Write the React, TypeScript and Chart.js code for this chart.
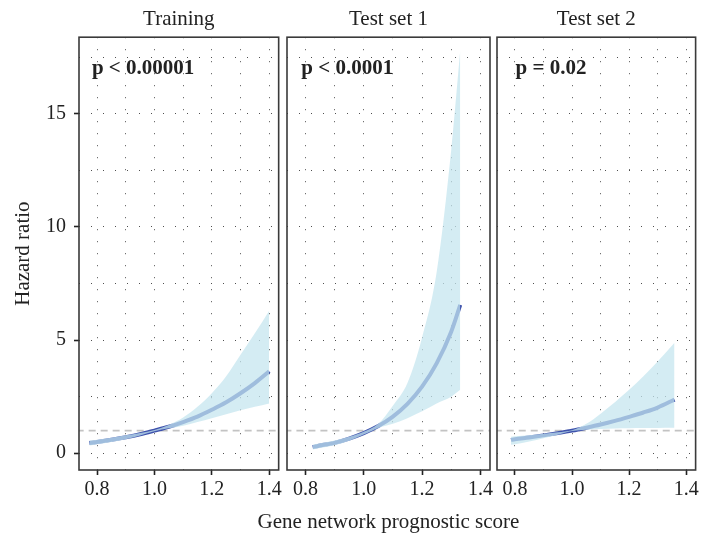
import React, { useEffect, useRef } from "react";
import { Chart, registerables } from "chart.js";

Chart.register(...registerables);

// ---------- data ----------
const panelTitles = ["Training", "Test set 1", "Test set 2"];
const pLabels = ["p < 0.00001", "p < 0.0001", "p = 0.02"];
const pLabelX = [0.782, 0.786, 0.802];
const pLabelY = 17.0;
const referenceHR = 1;

const xTickLabels = ["0.8", "1.0", "1.2", "1.4"];
const yTickLabels = ["0", "5", "10", "15"];
const xAxisTitle = "Gene network prognostic score";
const yAxisTitle = "Hazard ratio";

const trainX = [0.773, 0.8, 0.85, 0.9, 0.95, 1.0, 1.05, 1.1, 1.15, 1.2, 1.25, 1.3, 1.35, 1.4];
const trainHR = [0.45, 0.5, 0.6, 0.71, 0.84, 1.0, 1.17, 1.38, 1.62, 1.92, 2.25, 2.65, 3.1, 3.62];
const trainLower = [0.34, 0.4, 0.5, 0.62, 0.78, 0.97, 1.1, 1.22, 1.38, 1.55, 1.72, 1.9, 2.05, 2.2];
const trainUpper = [0.56, 0.6, 0.69, 0.79, 0.9, 1.03, 1.25, 1.58, 2.05, 2.65, 3.4, 4.35, 5.3, 6.3];

const test1X = [0.825, 0.85, 0.9, 0.95, 1.0, 1.05, 1.1, 1.15, 1.2, 1.25, 1.3, 1.331];
const test1HR = [0.27, 0.34, 0.46, 0.65, 0.89, 1.2, 1.62, 2.18, 2.94, 3.97, 5.37, 6.55];
const test1Lower = [0.17, 0.23, 0.35, 0.55, 0.83, 1.12, 1.3, 1.55, 1.85, 2.2, 2.5, 2.8];
const test1Upper = [0.38, 0.44, 0.56, 0.73, 0.95, 1.3, 2.1, 3.1, 5.1, 8.0, 13.4, 17.8];

const test2X = [0.786, 0.8, 0.85, 0.9, 0.95, 1.0, 1.05, 1.1, 1.15, 1.2, 1.25, 1.3, 1.359];
const test2HR = [0.59, 0.62, 0.7, 0.79, 0.89, 1.0, 1.13, 1.27, 1.43, 1.61, 1.8, 2.02, 2.37];
const test2Lower = [0.37, 0.4, 0.52, 0.66, 0.82, 0.98, 1.04, 1.07, 1.09, 1.1, 1.11, 1.12, 1.13];
const test2Upper = [0.73, 0.75, 0.8, 0.86, 0.93, 1.02, 1.3, 1.75, 2.25, 2.8, 3.4, 4.05, 4.88];

const panelX = [trainX, test1X, test2X];
const panelHR = [trainHR, test1HR, test2HR];
const panelLower = [trainLower, test1Lower, test2Lower];
const panelUpper = [trainUpper, test1Upper, test2Upper];

// ---------- styles ----------
const FONT = '"Liberation Serif", "DejaVu Serif", serif';
const TEXT = "#222222";
const X_MIN = 0.737;
const X_MAX = 1.433;
const Y_MIN = -0.74;
const Y_MAX = 18.38;

const layouts = [
  { left: 0, width: 285, padLeft: 0, padRight: 3, yWidth: 79, showY: true, showXTitle: false },
  { left: 234, width: 309, padLeft: 53, padRight: 53, yWidth: 0, showY: false, showXTitle: true },
  { left: 494, width: 208, padLeft: 3, padRight: 2, yWidth: 0, showY: false, showXTitle: false },
];

const xLabelOf = (v: number) => {
  const s = Number(v).toFixed(1);
  return xTickLabels.includes(s) ? s : "";
};
const yLabelOf = (v: number) => {
  const s = String(Math.round(v * 100) / 100);
  return yTickLabels.includes(s) ? s : "";
};

function Panel({ index }: { index: number }) {
  const ref = useRef<HTMLCanvasElement | null>(null);
  const lay = layouts[index];

  useEffect(() => {
    if (!ref.current) return;
    const xs = panelX[index];
    const toPts = (ys: number[]) => xs.map((x, i) => ({ x, y: ys[i] }));

    const framePlugin = {
      id: "frameAndLabel" + index,
      afterDraw(chart: any) {
        const { ctx, chartArea, scales } = chart;
        ctx.save();
        ctx.strokeStyle = "#3a3a3a";
        ctx.lineWidth = 1.6;
        ctx.strokeRect(chartArea.left, chartArea.top, chartArea.right - chartArea.left, chartArea.bottom - chartArea.top);
        ctx.fillStyle = TEXT;
        ctx.font = `bold 21px ${FONT}`;
        ctx.textAlign = "left";
        ctx.textBaseline = "middle";
        ctx.fillText(pLabels[index], scales.x.getPixelForValue(pLabelX[index]), scales.y.getPixelForValue(pLabelY));
        if (lay.showXTitle) {
          ctx.font = `21px ${FONT}`;
          ctx.textAlign = "center";
          ctx.fillText(xAxisTitle, (chartArea.left + chartArea.right) / 2, 522);
        }
        ctx.restore();
      },
    };

    const chart = new Chart(ref.current, {
      type: "line",
      data: {
        datasets: [
          {
            label: "upper",
            data: toPts(panelUpper[index]),
            borderWidth: 0,
            borderColor: "rgba(0,0,0,0)",
            backgroundColor: "rgba(196,229,238,0.73)",
            pointRadius: 0,
            fill: "+1",
            cubicInterpolationMode: "monotone",
            order: 0,
          },
          {
            label: "lower",
            data: toPts(panelLower[index]),
            borderWidth: 0,
            borderColor: "rgba(0,0,0,0)",
            pointRadius: 0,
            fill: false,
            cubicInterpolationMode: "monotone",
            order: 0,
          },
          {
            label: "HR",
            data: toPts(panelHR[index]),
            borderWidth: 4,
            borderColor: "rgb(62,82,172)",
            pointRadius: 0,
            fill: false,
            cubicInterpolationMode: "monotone",
            order: 1,
          },
          {
            label: "ref",
            data: [
              { x: X_MIN - 0.05, y: referenceHR },
              { x: X_MAX + 0.05, y: referenceHR },
            ],
            borderWidth: 1.6,
            borderColor: "rgb(195,195,195)",
            borderDash: [7, 5],
            pointRadius: 0,
            fill: false,
            order: 3,
          },
        ],
      },
      options: {
        animation: false,
        responsive: false,
        maintainAspectRatio: false,
        devicePixelRatio: 1,
        layout: { padding: { left: lay.padLeft, right: lay.padRight, top: 0, bottom: 0 } },
        plugins: {
          legend: { display: false },
          tooltip: { enabled: false },
          title: {
            display: true,
            text: panelTitles[index],
            fullSize: false,
            color: TEXT,
            font: { family: FONT, size: 21, weight: "normal" },
            padding: { top: 7, bottom: 5 },
          },
        },
        scales: {
          x: {
            type: "linear",
            min: X_MIN,
            max: X_MAX,
            afterFit: (s: any) => {
              s.height = 69;
            },
            border: { display: false, dash: [1, 11] },
            grid: {
              color: "rgba(60,60,60,0.9)",
              lineWidth: 1,
              drawTicks: true,
              tickLength: 5,
              tickWidth: 1.6,
              tickColor: (c: any) => (c.tick && xLabelOf(c.tick.value) ? "#222" : "rgba(0,0,0,0)"),
            },
            ticks: {
              stepSize: 0.1,
              includeBounds: false,
              autoSkip: false,
              maxRotation: 0,
              padding: 3,
              color: TEXT,
              font: { family: FONT, size: 20 },
              callback: (v: any) => xLabelOf(Number(v)),
            },
            title: { display: false },
          },
          y: {
            type: "linear",
            min: Y_MIN,
            max: Y_MAX,
            afterFit: (s: any) => {
              s.width = lay.yWidth;
            },
            border: { display: false, dash: [1, 11] },
            grid: {
              color: "rgba(60,60,60,0.9)",
              lineWidth: 1,
              drawTicks: lay.showY,
              tickLength: 5,
              tickWidth: 1.6,
              tickColor: (c: any) => (c.tick && yLabelOf(c.tick.value) ? "#222" : "rgba(0,0,0,0)"),
            },
            ticks: {
              display: lay.showY,
              stepSize: 2.5,
              includeBounds: false,
              autoSkip: false,
              padding: 8,
              color: TEXT,
              font: { family: FONT, size: 20 },
              callback: (v: any) => yLabelOf(Number(v)),
            },
            title: {
              display: lay.showY,
              text: yAxisTitle,
              color: TEXT,
              font: { family: FONT, size: 21 },
              padding: { top: 11, bottom: 0 },
            },
          },
        },
      },
      plugins: [framePlugin],
    } as any);

    return () => chart.destroy();
  }, [index]);

  return (
    <canvas
      ref={ref}
      width={lay.width}
      height={539}
      style={{ position: "absolute", left: lay.left, top: 0, width: lay.width, height: 539 }}
    />
  );
}

export default function App() {
  return (
    <div style={{ position: "fixed", left: 0, top: 0, width: 702, height: 539, background: "#ffffff" }}>
      <Panel index={0} />
      <Panel index={1} />
      <Panel index={2} />
    </div>
  );
}
